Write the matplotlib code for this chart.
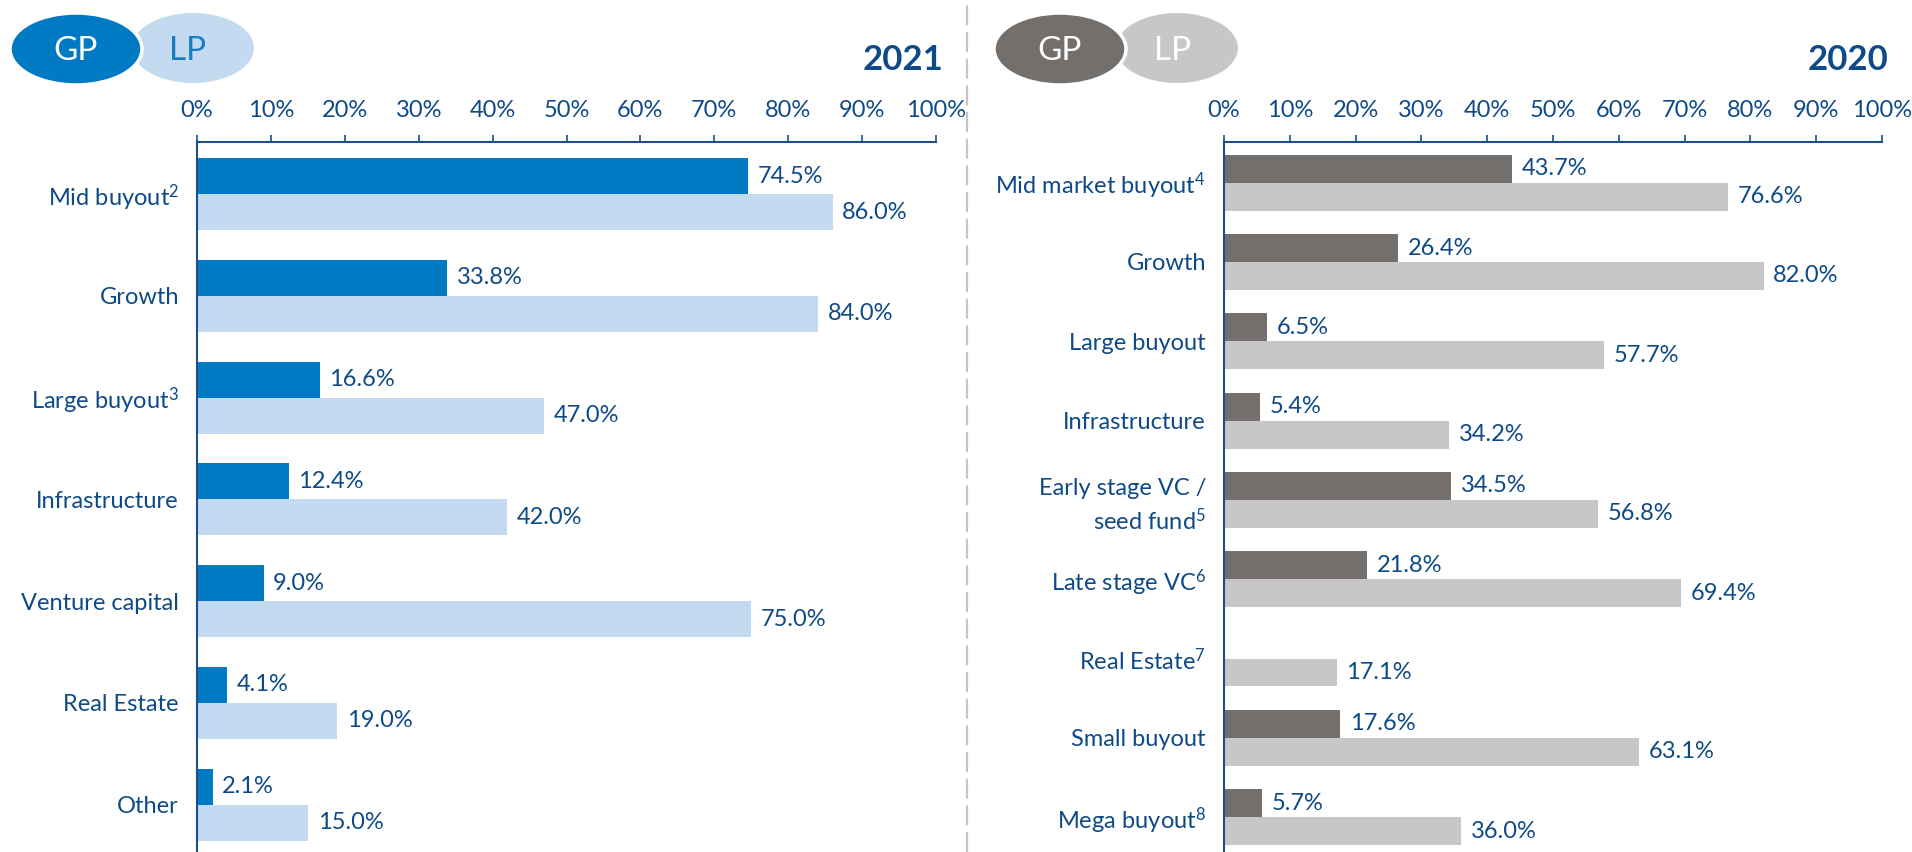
import matplotlib
matplotlib.use("Agg")
import matplotlib.pyplot as plt
from matplotlib.patches import Ellipse
from matplotlib.lines import Line2D
import numpy as np

# ---------------- data ----------------
cats_2021 = ["Mid buyout$^{2}$", "Growth", "Large buyout$^{3}$", "Infrastructure",
             "Venture capital", "Real Estate", "Other"]
gp_2021 = [74.5, 33.8, 16.6, 12.4, 9.0, 4.1, 2.1]
lp_2021 = [86.0, 84.0, 47.0, 42.0, 75.0, 19.0, 15.0]

cats_2020 = ["Mid market buyout$^{4}$", "Growth", "Large buyout", "Infrastructure",
             "Early stage VC /\nseed fund$^{5}$", "Late stage VC$^{6}$", "Real Estate$^{7}$",
             "Small buyout", "Mega buyout$^{8}$"]
gp_2020 = [43.7, 26.4, 6.5, 5.4, 34.5, 21.8, None, 17.6, 5.7]
lp_2020 = [76.6, 82.0, 57.7, 34.2, 56.8, 69.4, 17.1, 63.1, 36.0]

x_ticks = [0, 10, 20, 30, 40, 50, 60, 70, 80, 90, 100]
x_tick_labels = ["0%", "10%", "20%", "30%", "40%", "50%", "60%", "70%", "80%", "90%", "100%"]

# ---------------- style ----------------
plt.rcParams["font.family"] = ["Lato", "DejaVu Sans"]
plt.rcParams["mathtext.fontset"] = "custom"
plt.rcParams["mathtext.rm"] = "Lato"
plt.rcParams["mathtext.it"] = "Lato:italic"
plt.rcParams["mathtext.bf"] = "Lato:bold"
plt.rcParams["mathtext.default"] = "rm"
NAVY = "#0E4A87"
AXC = "#1B4F8C"
BLUE_GP = "#007AC2"
BLUE_LP = "#C4DAF0"
GRAY_GP = "#736F6D"
GRAY_LP = "#C8C6C7"
FS = 17

W, H, DPI = 1912, 852, 100
fig = plt.figure(figsize=(W / DPI, H / DPI), dpi=DPI)


def rect(x0, x1, ytop, ybot):
    return [x0 / W, 1 - ybot / H, (x1 - x0) / W, (ybot - ytop) / H]


def panel(ax, cats, gp, lp, c_gp, c_lp, ylim, h):
    y = np.arange(len(cats))
    gp_vals = [np.nan if v is None else v for v in gp]
    ax.barh(y - h / 2, gp_vals, height=h, color=c_gp, linewidth=0)
    ax.barh(y + h / 2, lp, height=h, color=c_lp, linewidth=0)
    for yi, v in zip(y, gp):
        if v is not None:
            ax.annotate(f"{v:.1f}%", (v, yi - h / 2), xytext=(7, 0),
                        textcoords="offset points", ha="left", va="center",
                        fontsize=FS, color=NAVY)
    for yi, v in zip(y, lp):
        ax.annotate(f"{v:.1f}%", (v, yi + h / 2), xytext=(7, 0),
                    textcoords="offset points", ha="left", va="center",
                    fontsize=FS, color=NAVY)
    ax.set_xlim(0, 100)
    ax.set_ylim(*ylim)
    ax.set_yticks(y)
    ax.set_yticklabels(cats, fontsize=FS, color=NAVY, linespacing=1.35)
    ax.tick_params(axis="y", length=0, pad=13)
    ax.xaxis.tick_top()
    ax.set_xticks(x_ticks)
    ax.set_xticklabels(x_tick_labels, fontsize=FS, color=NAVY)
    ax.tick_params(axis="x", direction="out", length=5, width=1.2, color=AXC, pad=10)
    for s in ["right", "bottom"]:
        ax.spines[s].set_visible(False)
    for s in ["top", "left"]:
        ax.spines[s].set_color(AXC)
        ax.spines[s].set_linewidth(1.5)
    ax.patch.set_alpha(0)


ax1 = fig.add_axes(rect(197, 936, 141.7, 852))
panel(ax1, cats_2021, gp_2021, lp_2021, BLUE_GP, BLUE_LP, (6.467, -0.517), 0.354)

ax2 = fig.add_axes(rect(1224, 1882, 141.7, 852))
panel(ax2, cats_2020, gp_2020, lp_2020, GRAY_GP, GRAY_LP, (8.44, -0.517), 0.353)

# year titles
fig.text(943 / W, 1 - 60 / H, "2021", ha="right", va="center", fontsize=25,
         fontweight="bold", color=NAVY)
fig.text(1888 / W, 1 - 60 / H, "2020", ha="right", va="center", fontsize=25,
         fontweight="bold", color=NAVY)

# dashed separator
fig.add_artist(Line2D([967 / W, 967 / W], [0, 1], transform=fig.transFigure,
                      color="#C4C4C4", lw=1.6, ls=(0, (9, 3))))

# legend ellipses
tr = fig.dpi_scale_trans


def ell(cx, cy, w, h, color, edge=None):
    e = Ellipse((cx / DPI, (H - cy) / DPI), w / DPI, h / DPI, transform=tr,
                facecolor=color, edgecolor=edge if edge else color,
                linewidth=2.5 if edge else 0)
    fig.add_artist(e)


def ltxt(cx, cy, s, color):
    fig.text(cx / W, 1 - cy / H, s, ha="center", va="center", fontsize=24, color=color)


ell(193, 48, 122, 70, BLUE_LP)
ell(76, 49, 132, 72, BLUE_GP, edge="white")
ltxt(76, 51, "GP", "white")
ltxt(188, 51, "LP", "#1A7DC4")

ell(1177, 48, 122, 70, GRAY_LP)
ell(1060, 49, 132, 72, GRAY_GP, edge="white")
ltxt(1060, 51, "GP", "white")
ltxt(1173, 51, "LP", "white")

fig.savefig("out.png", dpi=DPI)
